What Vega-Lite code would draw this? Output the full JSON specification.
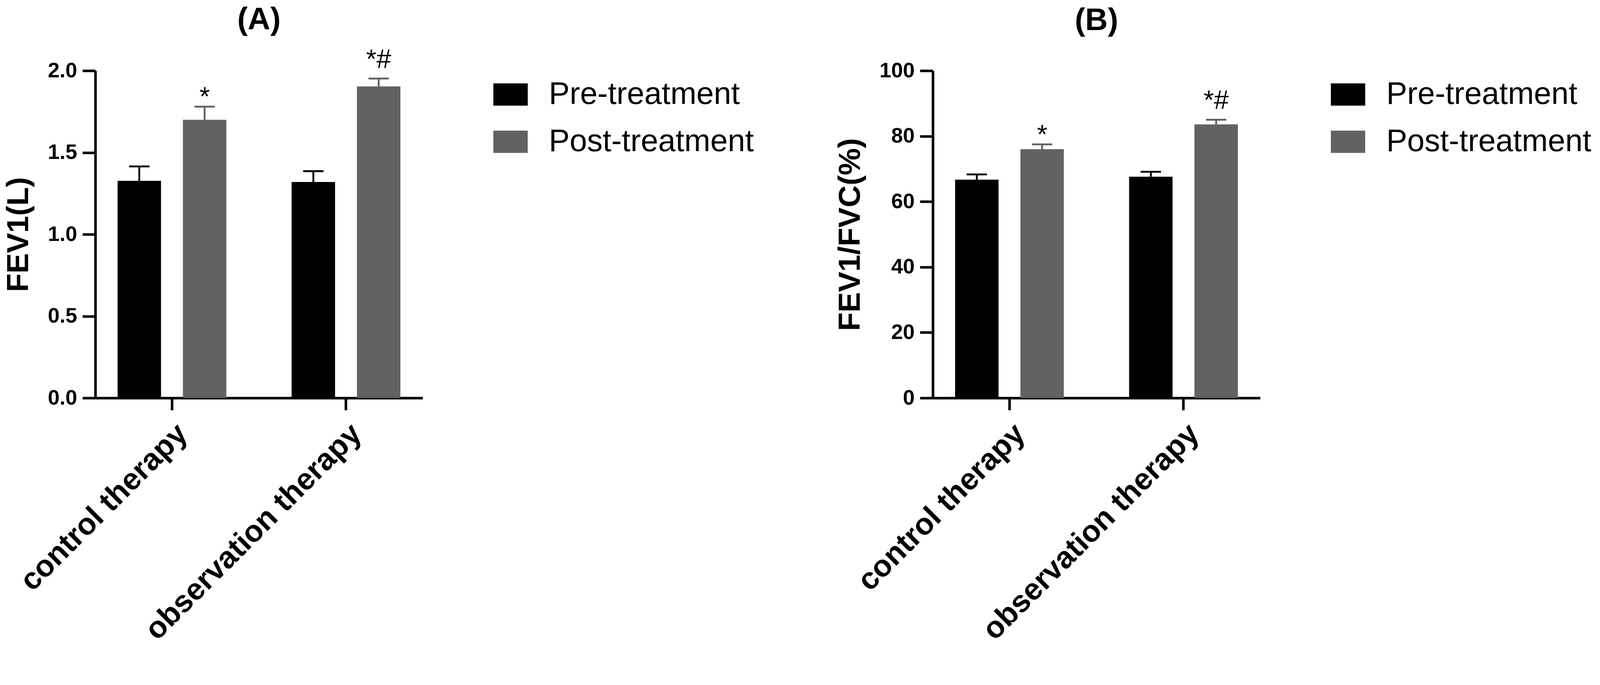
{
  "$schema": "https://vega.github.io/schema/vega-lite/v6.json",
  "background": "white",
  "padding": {"left": 9, "top": 11, "right": 5, "bottom": 5},
  "data": {"name": "lung"},
  "datasets": {
    "lung": [
      {"panel": "A", "group": "control therapy", "time": "Pre-treatment", "mean": 1.327, "upper": 1.415, "sig": ""},
      {"panel": "A", "group": "control therapy", "time": "Post-treatment", "mean": 1.700, "upper": 1.780, "sig": "*"},
      {"panel": "A", "group": "observation therapy", "time": "Pre-treatment", "mean": 1.320, "upper": 1.386, "sig": ""},
      {"panel": "A", "group": "observation therapy", "time": "Post-treatment", "mean": 1.904, "upper": 1.952, "sig": "*#"},
      {"panel": "B", "group": "control therapy", "time": "Pre-treatment", "mean": 66.7, "upper": 68.3, "sig": ""},
      {"panel": "B", "group": "control therapy", "time": "Post-treatment", "mean": 76.0, "upper": 77.5, "sig": "*"},
      {"panel": "B", "group": "observation therapy", "time": "Pre-treatment", "mean": 67.6, "upper": 69.1, "sig": ""},
      {"panel": "B", "group": "observation therapy", "time": "Post-treatment", "mean": 83.6, "upper": 85.0, "sig": "*#"}
    ]
  },
  "config": {
    "font": "Liberation Sans",
    "view": {"stroke": null},
    "axis": {
      "domainColor": "black", "domainWidth": 6.6, "tickColor": "black", "tickWidth": 6.6,
      "labelColor": "black", "titleColor": "black", "labelFont": "Liberation Sans", "titleFont": "Liberation Sans",
      "labelFontWeight": "bold", "titleFontWeight": "bold", "grid": false, "labelLimit": 2000
    },
    "legend": {
      "title": null, "orient": "right", "offset": 164, "padding": 17,
      "symbolType": "M-1,-0.645H1V0.645H-1Z", "symbolSize": 7744, "symbolStrokeWidth": 0, "symbolOpacity": 1,
      "labelFontSize": 80, "labelFont": "Liberation Sans", "labelColor": "black", "labelOffset": 54,
      "rowPadding": 37, "labelLimit": 2000
    },
    "title": {"font": "Liberation Sans", "fontSize": 80, "fontWeight": "bold", "color": "black", "anchor": "middle", "frame": "group"}
  },
  "hconcat": [
    {
      "title": {"text": "(A)", "offset": 28},
      "width": 838, "height": 838,
      "transform": [{"filter": "datum.panel == 'A'"}],
      "encoding": {
        "x": {"field": "group", "type": "nominal", "sort": ["control therapy", "observation therapy"],
              "scale": {"paddingInner": 0.375, "paddingOuter": 0.128},
              "axis": {"title": null, "labelAngle": -45, "labelFontSize": 78, "tickSize": 31, "labelPadding": 21}},
        "xOffset": {"field": "time", "type": "nominal", "sort": ["Pre-treatment", "Post-treatment"],
                    "scale": {"paddingInner": 0.335, "paddingOuter": 0}},
        "color": {"field": "time", "type": "nominal", "sort": ["Pre-treatment", "Post-treatment"],
                  "scale": {"domain": ["Pre-treatment", "Post-treatment"], "range": ["#000000", "#626262"]}}
      },
      "layer": [
        {"mark": {"type": "bar", "opacity": 1},
         "encoding": {"y": {"field": "mean", "type": "quantitative",
                            "scale": {"domain": [0, 2]},
                            "axis": {"title": "FEV1(L)", "titleFontSize": 78, "titlePadding": 34, "values": [0, 0.5, 1, 1.5, 2], "format": ".1f", "labelFontSize": 54, "tickSize": 33, "labelPadding": 14}}}},
        {"mark": {"type": "rule", "strokeWidth": 4.8, "opacity": 1},
         "encoding": {"y": {"field": "mean", "type": "quantitative"}, "y2": {"field": "upper"}}},
        {"mark": {"type": "tick", "orient": "horizontal", "size": 52, "thickness": 4.8, "opacity": 1},
         "encoding": {"y": {"field": "upper", "type": "quantitative"}}},
        {"transform": [{"filter": "datum.sig == '*'"}],
         "mark": {"type": "text", "fontSize": 68, "baseline": "alphabetic", "dy": -3},
         "encoding": {"y": {"field": "upper", "type": "quantitative"}, "text": {"field": "sig"}, "color": {"value": "black"}}},
        {"transform": [{"filter": "datum.sig == '*#'"}],
         "mark": {"type": "text", "fontSize": 68, "baseline": "alphabetic", "dy": -27},
         "encoding": {"y": {"field": "upper", "type": "quantitative"}, "text": {"field": "sig"}, "color": {"value": "black"}}}
      ]
    },
    {
      "title": {"text": "(B)", "offset": 60},
      "width": 838, "height": 838,
      "transform": [{"filter": "datum.panel == 'B'"}],
      "encoding": {
        "x": {"field": "group", "type": "nominal", "sort": ["control therapy", "observation therapy"],
              "scale": {"paddingInner": 0.375, "paddingOuter": 0.128},
              "axis": {"title": null, "labelAngle": -45, "labelFontSize": 78, "tickSize": 31, "labelPadding": 21}},
        "xOffset": {"field": "time", "type": "nominal", "sort": ["Pre-treatment", "Post-treatment"],
                    "scale": {"paddingInner": 0.335, "paddingOuter": 0}},
        "color": {"field": "time", "type": "nominal", "sort": ["Pre-treatment", "Post-treatment"],
                  "scale": {"domain": ["Pre-treatment", "Post-treatment"], "range": ["#000000", "#626262"]}}
      },
      "layer": [
        {"mark": {"type": "bar", "opacity": 1},
         "encoding": {"y": {"field": "mean", "type": "quantitative",
                            "scale": {"domain": [0, 100]},
                            "axis": {"title": "FEV1/FVC(%)", "titleFontSize": 78, "titlePadding": 34, "values": [0, 20, 40, 60, 80, 100], "labelFontSize": 54, "tickSize": 33, "labelPadding": 14}}}},
        {"mark": {"type": "rule", "strokeWidth": 4.8, "opacity": 1},
         "encoding": {"y": {"field": "mean", "type": "quantitative"}, "y2": {"field": "upper"}}},
        {"mark": {"type": "tick", "orient": "horizontal", "size": 52, "thickness": 4.8, "opacity": 1},
         "encoding": {"y": {"field": "upper", "type": "quantitative"}}},
        {"transform": [{"filter": "datum.sig == '*'"}],
         "mark": {"type": "text", "fontSize": 68, "baseline": "alphabetic", "dy": -3},
         "encoding": {"y": {"field": "upper", "type": "quantitative"}, "text": {"field": "sig"}, "color": {"value": "black"}}},
        {"transform": [{"filter": "datum.sig == '*#'"}],
         "mark": {"type": "text", "fontSize": 68, "baseline": "alphabetic", "dy": -28},
         "encoding": {"y": {"field": "upper", "type": "quantitative"}, "text": {"field": "sig"}, "color": {"value": "black"}}}
      ]
    }
  ],
  "resolve": {"scale": {"y": "independent", "color": "independent", "x": "independent", "xOffset": "independent"}, "legend": {"color": "independent"}},
  "spacing": 191
}
